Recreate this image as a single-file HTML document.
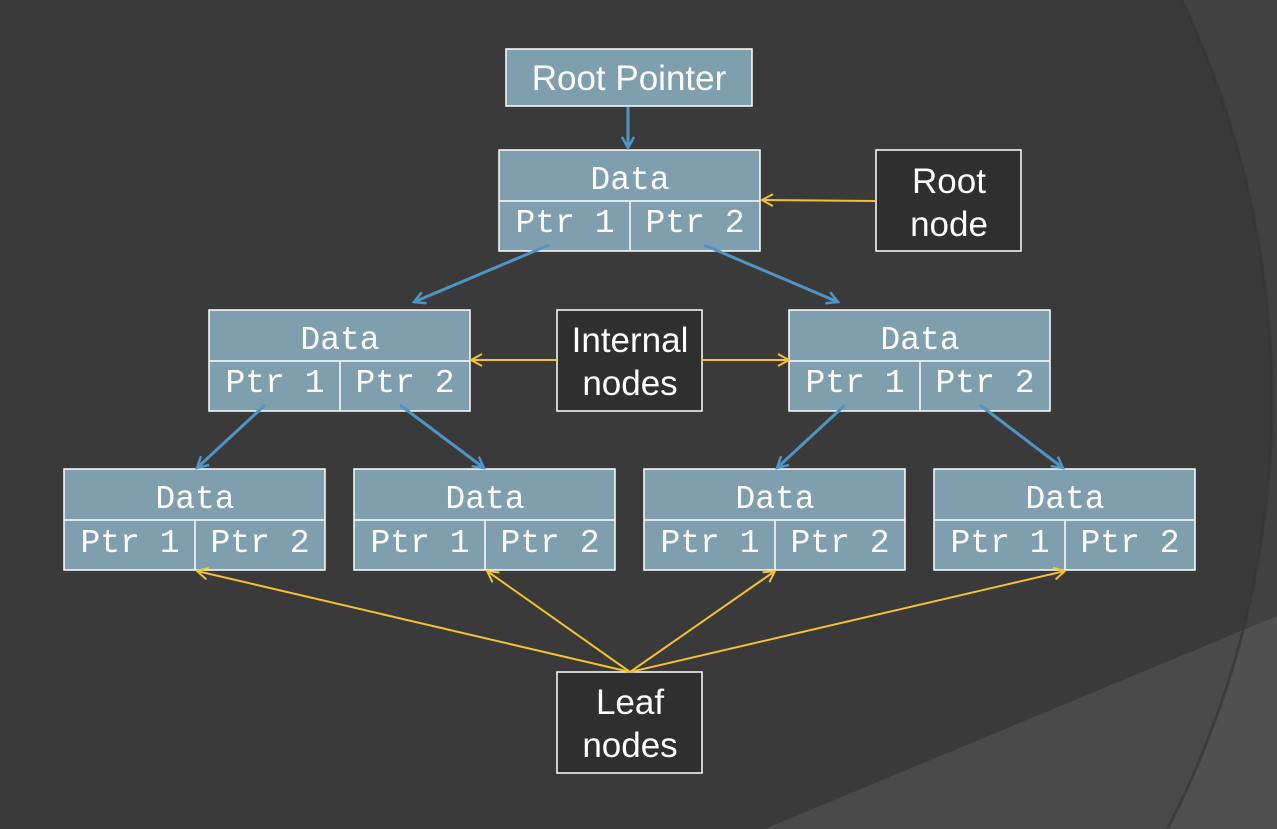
<!DOCTYPE html>
<html><head><style>
html,body{margin:0;padding:0;width:1277px;height:829px;overflow:hidden;background:#3a3a3a;}
svg{display:block;}
</style></head><body>
<svg width="1277" height="829" xmlns="http://www.w3.org/2000/svg" style="position:absolute;left:0;top:0">
<defs>
<clipPath id="c"><circle cx="340" cy="400" r="932"/></clipPath>
<marker id="b" markerWidth="14" markerHeight="14" refX="12" refY="7" orient="auto" markerUnits="userSpaceOnUse"><path d="M1,1 L12,7 L1,13" fill="none" stroke="#4f95c4" stroke-width="2.5"/></marker>
<marker id="y" markerWidth="14" markerHeight="14" refX="12" refY="7" orient="auto" markerUnits="userSpaceOnUse"><path d="M1,1 L12,7 L1,13" fill="none" stroke="#f2c230" stroke-width="2"/></marker>
<g id="n" stroke="#fff" stroke-width="1.5"><rect x="0" y="0" width="261" height="101" fill="#7f9fae"/><line x1="0" y1="51" x2="261" y2="51"/><line x1="131" y1="51" x2="131" y2="101"/></g>
</defs>
<rect width="1277" height="829" fill="#414141"/>
<polygon points="1277,616 -200,1230 1277,1230" fill="#505050"/>
<g clip-path="url(#c)">
<rect width="1277" height="829" fill="#3a3a3a"/>
<polygon points="1277,616 -200,1230 1277,1230" fill="#4a4a4a"/>
</g>
<circle cx="340" cy="400" r="932" fill="none" stroke="#333" stroke-width="3" opacity="0.6"/>
<g font-family="Liberation Sans, sans-serif" fill="#fff" font-size="35" text-anchor="middle">
<rect x="506" y="49" width="246" height="57" fill="#7f9fae" stroke="#fff" stroke-width="1.5"/>
<text x="629" y="90">Root Pointer</text>
<rect x="876" y="150" width="145" height="101" fill="#2f2f2f" stroke="#fff" stroke-width="1.5"/>
<text x="949" y="193">Root</text><text x="949" y="236">node</text>
<rect x="557" y="310" width="145" height="101" fill="#2f2f2f" stroke="#fff" stroke-width="1.5"/>
<text x="630" y="352">Internal</text><text x="630" y="395">nodes</text>
<rect x="557" y="672" width="145" height="101" fill="#2f2f2f" stroke="#fff" stroke-width="1.5"/>
<text x="630" y="714">Leaf</text><text x="630" y="757">nodes</text>
</g>
<use href="#n" x="499" y="150"/><use href="#n" x="209" y="310"/><use href="#n" x="789" y="310"/>
<use href="#n" x="64" y="469"/><use href="#n" x="354" y="469"/><use href="#n" x="644" y="469"/><use href="#n" x="934" y="469"/>
<g font-family="Liberation Mono, monospace" fill="#fff" font-size="33" text-anchor="middle">
<text x="630" y="189">Data</text><text x="565" y="232">Ptr 1</text><text x="695" y="232">Ptr 2</text>
<text x="340" y="349">Data</text><text x="275" y="392">Ptr 1</text><text x="405" y="392">Ptr 2</text>
<text x="920" y="349">Data</text><text x="855" y="392">Ptr 1</text><text x="985" y="392">Ptr 2</text>
<text x="195" y="508">Data</text><text x="130" y="552">Ptr 1</text><text x="260" y="552">Ptr 2</text>
<text x="485" y="508">Data</text><text x="420" y="552">Ptr 1</text><text x="550" y="552">Ptr 2</text>
<text x="775" y="508">Data</text><text x="710" y="552">Ptr 1</text><text x="840" y="552">Ptr 2</text>
<text x="1065" y="508">Data</text><text x="1000" y="552">Ptr 1</text><text x="1130" y="552">Ptr 2</text>
</g>
<g stroke="#4f95c4" stroke-width="3" marker-end="url(#b)">
<line x1="628" y1="107" x2="628" y2="148"/>
<line x1="549" y1="245" x2="414" y2="302"/>
<line x1="704" y1="245" x2="838" y2="302"/>
<line x1="265" y1="405" x2="197" y2="468"/>
<line x1="400" y1="405" x2="484" y2="468"/>
<line x1="845" y1="405" x2="777" y2="468"/>
<line x1="980" y1="405" x2="1063" y2="468"/>
</g>
<g stroke="#f2c230" stroke-width="2" marker-end="url(#y)">
<line x1="876" y1="201" x2="762" y2="200"/>
<line x1="557" y1="360" x2="471" y2="360"/>
<line x1="702" y1="360" x2="789" y2="360"/>
<line x1="630" y1="672" x2="197" y2="571"/>
<line x1="630" y1="672" x2="487" y2="571"/>
<line x1="630" y1="672" x2="775" y2="571"/>
<line x1="630" y1="672" x2="1065" y2="571"/>
</g>
</svg>
</body></html>
